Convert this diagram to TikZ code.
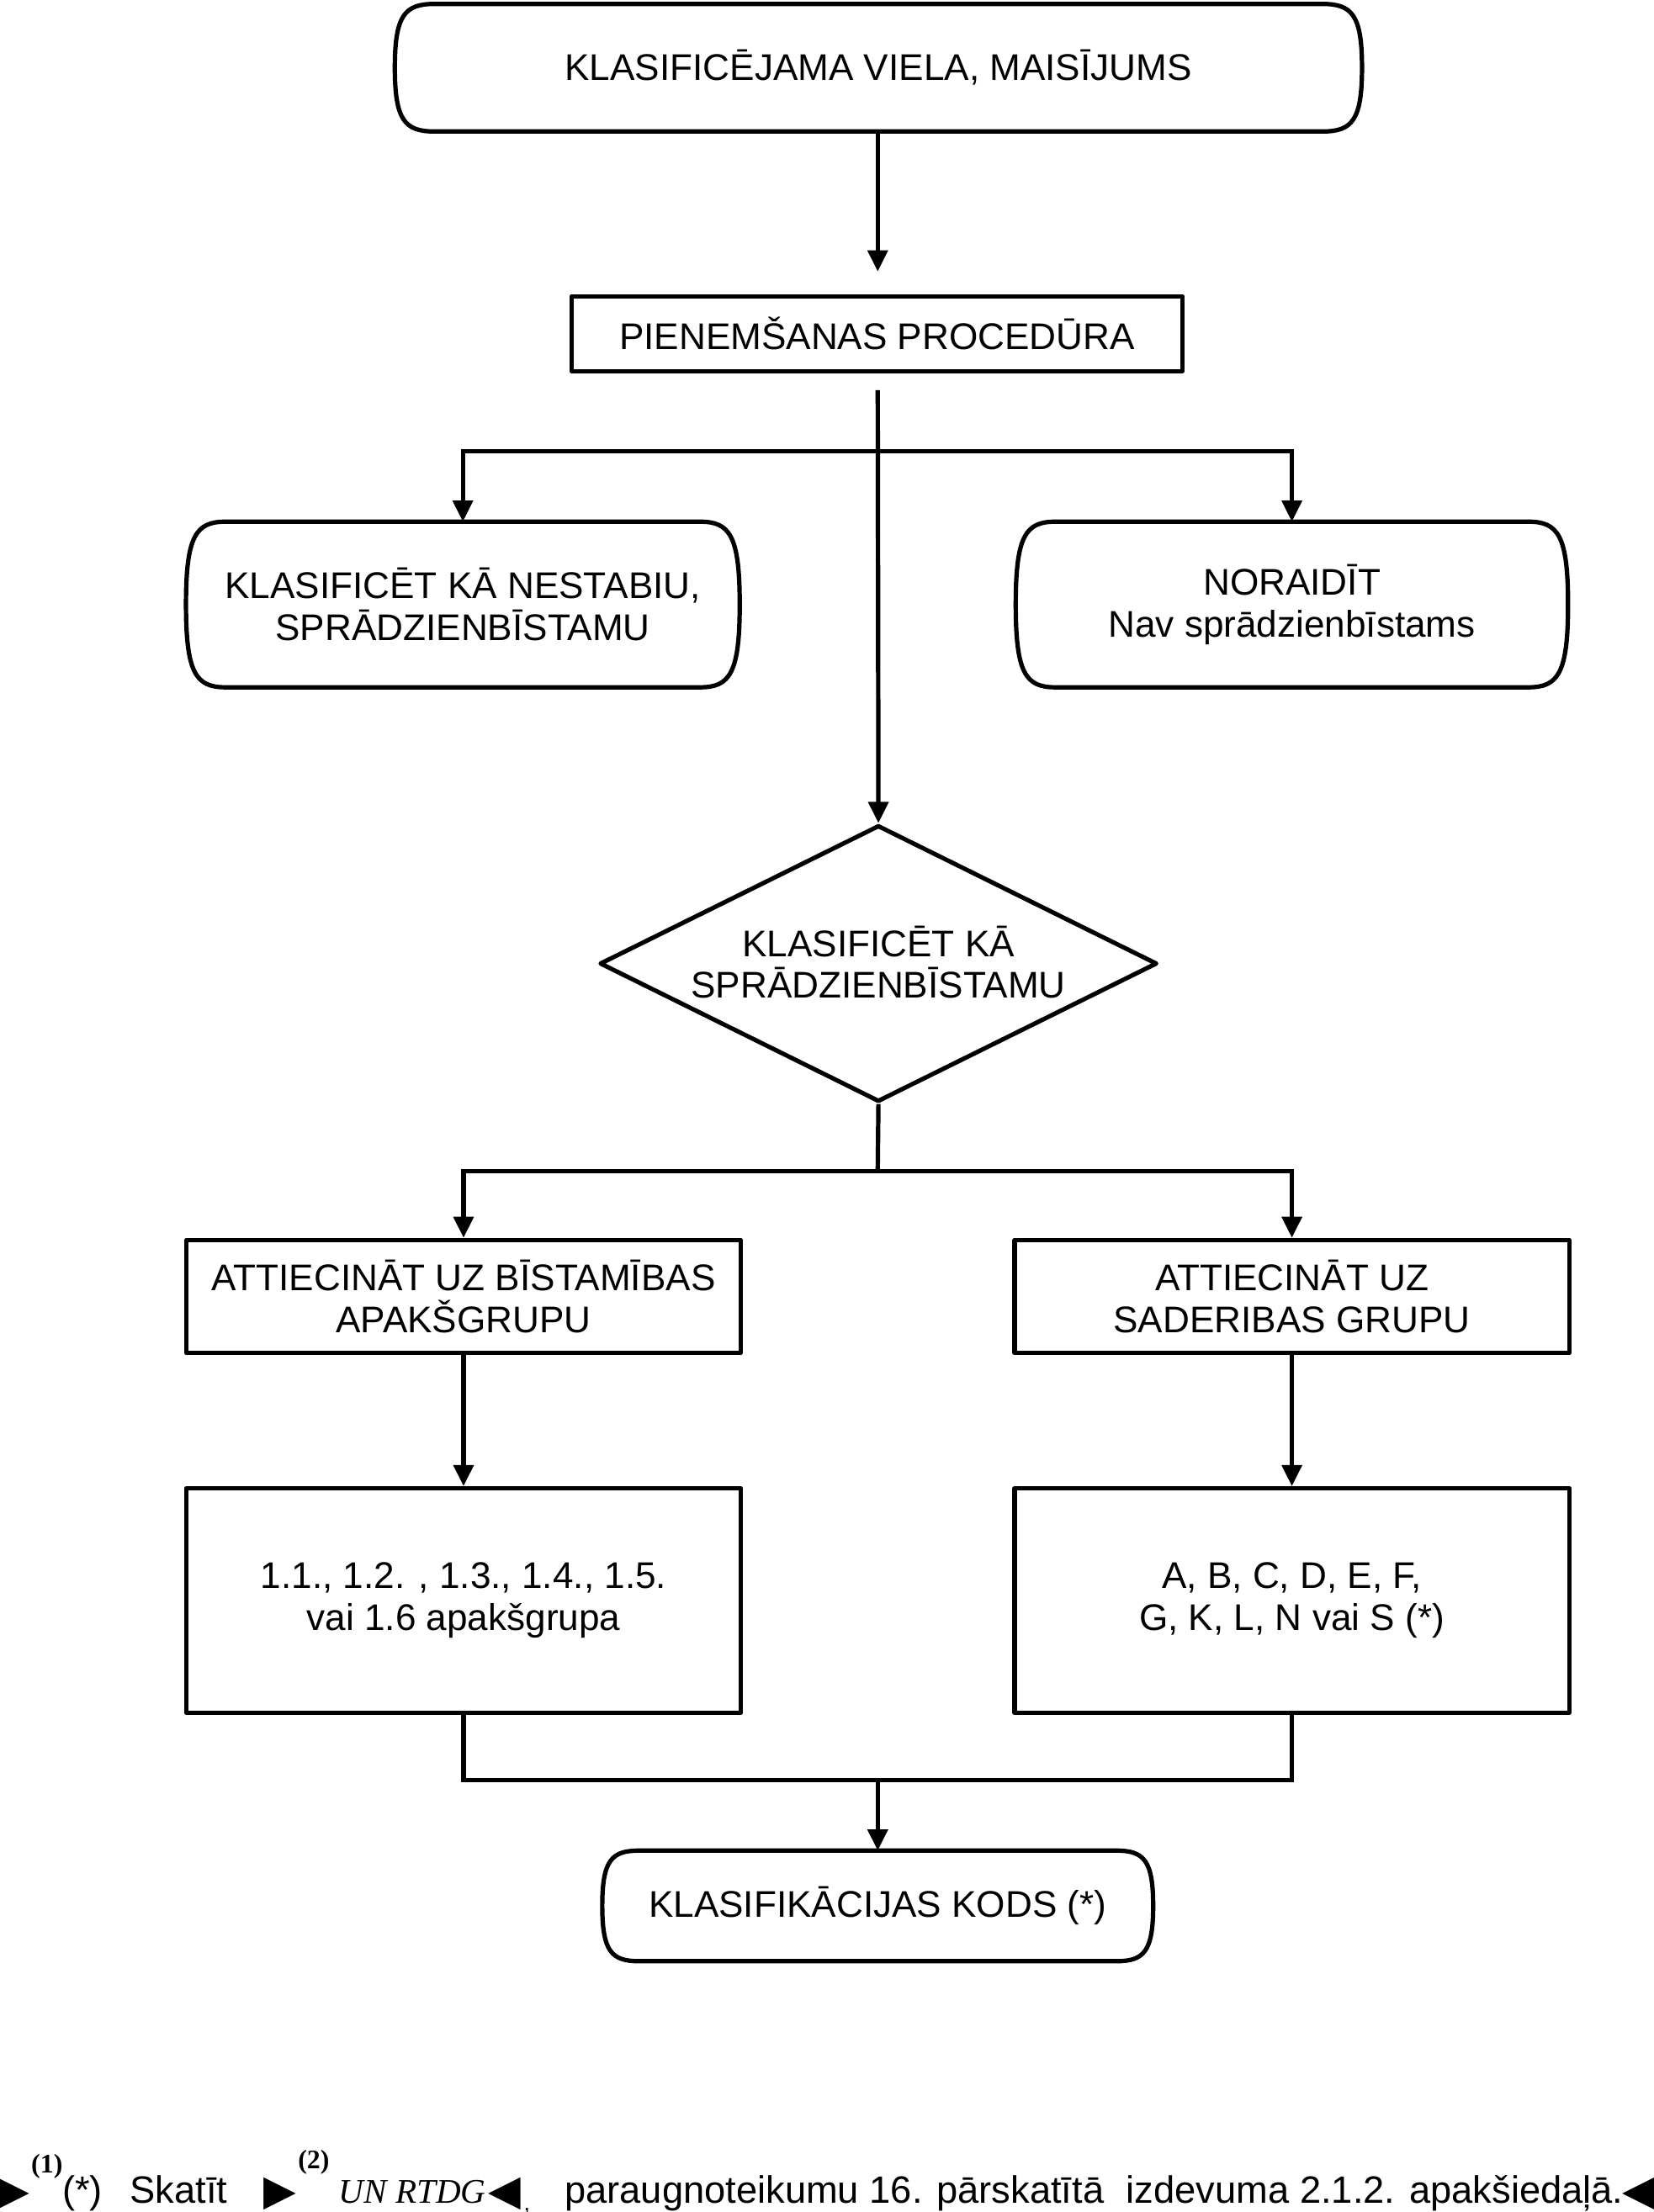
\documentclass[tikz,border=0pt]{standalone}
\usepackage{fontspec}
\setmainfont{Liberation Sans}
\newfontfamily\timesfont{Liberation Serif}
\newfontfamily\symfont{DejaVu Sans}
\usetikzlibrary{arrows.meta,shapes.geometric}

% #1 node name, #2 horizontal depth of the curved end, #3 vertical offset of side control
\newcommand\termoutline[3]{%
  \draw[boxline] ([xshift=#2]#1.north west) -- ([xshift=-#2]#1.north east)
    .. controls ([xshift=-0.25*#2]#1.north east) and ([yshift=-#3]#1.north east) .. (#1.east)
    .. controls ([yshift=#3]#1.south east) and ([xshift=-0.25*#2]#1.south east) .. ([xshift=-#2]#1.south east)
    -- ([xshift=#2]#1.south west)
    .. controls ([xshift=0.25*#2]#1.south west) and ([yshift=#3]#1.south west) .. (#1.west)
    .. controls ([yshift=-#3]#1.north west) and ([xshift=0.25*#2]#1.north west) .. cycle;}

\begin{document}
\begin{tikzpicture}[x=1pt,y=-1pt,
  every node/.style={font=\fontsize{26.3}{30}\selectfont, align=center, inner sep=0pt},
  boxline/.style={line width=3.1pt, line join=round},
  conn/.style={line width=3.1pt},
  arr/.style={conn,-{Triangle[length=15pt,width=14pt]}},
  rectbox/.style={draw, boxline},
  term/.style={draw=none},
  decbox/.style={diamond, draw, boxline, aspect=2},
  foot/.style={anchor=base west, font=\fontsize{27}{30}\selectfont},
  footsup/.style={anchor=base west, font=\fontsize{19}{22}\selectfont\timesfont\bfseries},
  footsym/.style={anchor=base west, font=\fontsize{30}{34}\selectfont\symfont},
]
\useasboundingbox (0,0) rectangle (1172,1568);

% nodes
\node[term, minimum width=685pt, minimum height=90pt] (start) at (622.5,48) {\raisebox{-2pt}{KLASIFICĒJAMA VIELA, MAISĪJUMS}};
\termoutline{start}{28}{8}
\node[rectbox, minimum width=433pt, minimum height=53pt] (proc) at (621.5,236.5) {PIENEMŠANAS PROCEDŪRA};
\node[term, minimum width=392pt, minimum height=117pt] (unst) at (328,428.5) {KLASIFICĒT KĀ NESTABIU,\\SPRĀDZIENBĪSTAMU};
\termoutline{unst}{28}{10}
\node[term, minimum width=391pt, minimum height=117pt] (rej) at (915.5,428.5) {NORAIDĪT\\Nav sprādzienbīstams};
\termoutline{rej}{28}{10}
\node[decbox, minimum width=395pt, minimum height=196pt] (dec) at (622.5,683) {\raisebox{2pt}{\shortstack{KLASIFICĒT KĀ\\[4pt]SPRĀDZIENBĪSTAMU}}};
\node[rectbox, minimum width=393pt, minimum height=80pt] (sub) at (328.5,919) {ATTIECINĀT UZ BĪSTAMĪBAS\\APAKŠGRUPU};
\node[rectbox, minimum width=393pt, minimum height=80pt] (grp) at (915.5,919) {ATTIECINĀT UZ\\SADERIBAS GRUPU};
\node[rectbox, minimum width=393pt, minimum height=159pt] (subv) at (328.5,1134.5) {1.1., 1.2. , 1.3., 1.4., 1.5.\\vai 1.6 apakšgrupa};
\node[rectbox, minimum width=393pt, minimum height=159pt] (grpv) at (915.5,1134.5) {A, B, C, D, E, F,\\G, K, L, N vai S (*)};
\node[term, minimum width=390pt, minimum height=78pt] (code) at (622,1351) {KLASIFIKĀCIJAS KODS (*)};
\termoutline{code}{26}{7}

% junctions
\coordinate (j1) at (622,320);
\coordinate (j2) at (622,830);
\coordinate (j3) at (622,1262);

% connectors
\draw[arr, shorten >=16pt] (start.south -| j1) -- (proc.north -| j1);
\draw[arr, shorten <=12pt] (proc.south -| j1) -- (dec.north);
\draw[arr] (j1) -| (unst.north);
\draw[arr] (j1) -| (rej.north);
\draw[conn] (dec.south) -- (j2);
\draw[arr] (j2) -| (sub.north);
\draw[arr] (j2) -| (grp.north);
\draw[arr] (sub) -- (subv);
\draw[arr] (grp) -- (grpv);
\draw[conn] (subv.south) |- (j3);
\draw[conn] (grpv.south) |- (j3);
\draw[arr] (j3) -- (code.north);

% footnote
\node[footsym] (f1) at (-2,1563) {▶};
\node[footsup] (f2) at (22,1540) {(1)};
\node[foot] (f3) at (44,1562) {(*)};
\node[foot] (f4) at (92,1562) {Skatīt};
\node[footsym] (f5) at (187,1563) {▶};
\node[footsup] (f6) at (211,1537) {(2)};
\node[foot, font=\fontsize{24.5}{30}\selectfont\timesfont\itshape] (f7) at (240,1562) {UN RTDG};
\node[footsym] (f8) at (346,1563) {◀};
\node[foot, font=\fontsize{16}{18}\selectfont] (f9) at (371,1567) {,};
\node[foot] (f10) at (400,1562) {paraugnoteikumu 16. pārskatītā};
\node[foot] (f11) at (798,1562) {izdevuma 2.1.2. apakšiedaļā.};
\node[footsym, anchor=base east] (f12) at (1173,1563) {◀};
\end{tikzpicture}
\end{document}
